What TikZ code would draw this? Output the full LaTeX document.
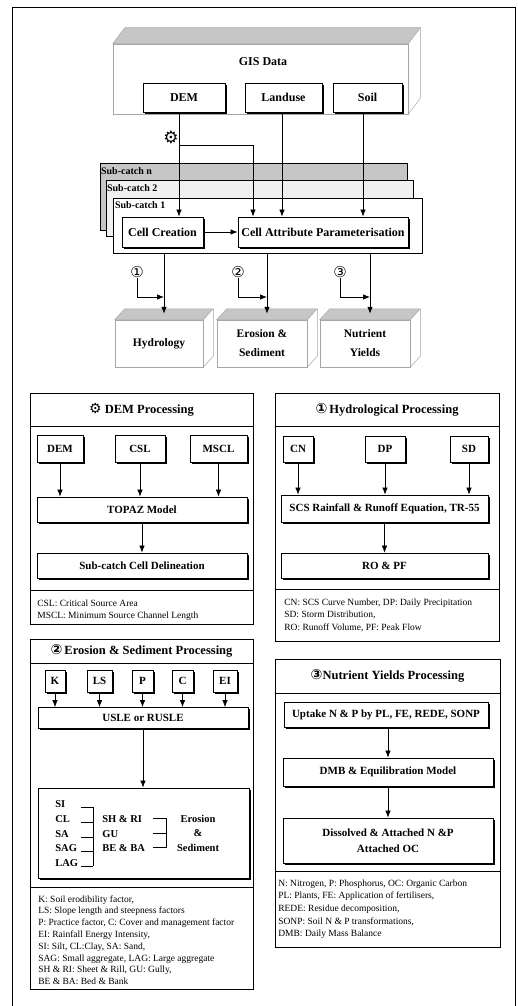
\documentclass[tikz,border=0pt]{standalone}
\usepackage{fontspec}
\setmainfont{Liberation Serif}
\newfontfamily\symfont{DejaVu Sans}
\usetikzlibrary{arrows.meta,shadows}
\tikzset{
  >={Latex[length=7pt,width=5.5pt]},
  box/.style={draw,fill=white,line width=0.8pt,inner sep=1pt,font=\bfseries\fontsize{11}{13}\selectfont,
    drop shadow={shadow xshift=1.6pt,shadow yshift=-1.6pt,fill=black,opacity=1}},
  topbox/.style={box,font=\bfseries\fontsize{12}{14}\selectfont},
  panel/.style={draw,line width=0.7pt},
  ptitle/.style={inner sep=0pt,font=\bfseries\fontsize{12.5}{14}\selectfont},
  note/.style={anchor=base west,inner sep=0pt,font=\fontsize{9.5}{11}\selectfont},
  slab/.style={draw=gray!70,line width=0.5pt},
  slabtop/.style={slab,fill=gray!45},
  sublbl/.style={anchor=north west,inner sep=0pt,font=\bfseries\fontsize{10}{12}\selectfont},
  outlbl/.style={slab,align=center,font=\bfseries\fontsize{11.5}{19}\selectfont},
  erotxt/.style={anchor=base west,inner sep=0pt,font=\bfseries\fontsize{10.5}{12}\selectfont},
  num/.style={inner sep=0pt,font=\symfont\fontsize{15}{15}\selectfont},
  every picture/.style={line width=0.7pt},
}
\newcommand\gearsym{{\symfont\fontsize{14}{14}\selectfont ⚙}}
% top face and right face of a slab; #2,#3 = depth offset right/up
\newcommand\slabfaces[3]{%
  \filldraw[slabtop] (#1.north west) -- ++(#2,-#3) -- ([xshift=#2pt,yshift=#3pt]#1.north east) -- (#1.north east) -- cycle;
  \draw[slab] ([xshift=#2pt,yshift=#3pt]#1.north east) -- ([xshift=#2pt,yshift=#3pt]#1.south east) -- (#1.south east);}

\begin{document}
\begin{tikzpicture}[x=1pt,y=-1pt]
\useasboundingbox (0,0) rectangle (517,1006);
\draw (12,1006) -- (12,7) -- (515,7) -- (515,1006);

% GIS data slab
\node[slab,minimum width=295,minimum height=70] (gis) at (260.5,79) {};
\slabfaces{gis}{12}{16}
\node[inner sep=0pt,font=\bfseries\fontsize{12}{14}\selectfont] (gisLbl) at (263,62) {GIS Data};
\node[topbox,minimum width=82,minimum height=29] (demT) at (184,97.5) {DEM};
\node[topbox,minimum width=77,minimum height=29] (landT) at (283.5,97.5) {Landuse};
\node[topbox,minimum width=69,minimum height=29] (soilT) at (367.5,97.5) {Soil};

% sub-catchment stack
\node[draw,line width=0.5pt,fill=gray!45,minimum width=307,minimum height=67] (scN) at (253.5,196.5) {};
\node[draw,line width=0.5pt,fill=gray!12,minimum width=307,minimum height=56] (sc2) at (259.5,208) {};
\node[draw,fill=white,minimum width=309,minimum height=55] (sc1) at (267.5,225.5) {};
\node[sublbl] (scNLbl) at ([xshift=1pt,yshift=-4pt]scN.north west) {Sub-catch n};
\node[sublbl] (sc2Lbl) at ([xshift=1pt,yshift=-4pt]sc2.north west) {Sub-catch 2};
\node[sublbl] (sc1Lbl) at ([xshift=2pt,yshift=-4pt]sc1.north west) {Sub-catch 1};
\node[topbox,minimum width=81,minimum height=30] (cellC) at (162.5,232) {Cell Creation};
\node[topbox,minimum width=170,minimum height=30] (cellA) at (323,232) {Cell Attribute Parameterisation};

\coordinate (dj) at (179,145);
\draw[->] ([xshift=-5pt]demT.south) -- ([xshift=-5pt]demT.south |- cellC.north);
\draw[->] (dj) -| ([xshift=-70pt]cellA.north);
\draw[->] ([xshift=-1.5pt]landT.south) -- ([xshift=-1.5pt]landT.south |- cellA.north);
\draw[->] ([xshift=-4.5pt]soilT.south) -- ([xshift=-4.5pt]soilT.south |- cellA.north);
\draw[->] (cellC) -- (cellA);
\node[num,font=\symfont\fontsize{17}{17}\selectfont] (gear) at (171,137) {⚙};

% output slabs
\node[outlbl,minimum width=88,minimum height=47] (hyd) at (159,343.5) {Hydrology};
\node[outlbl,minimum width=90,minimum height=47] (ero) at (262,343.5) {Erosion \&\\Sediment};
\node[outlbl,minimum width=90,minimum height=47] (nut) at (365,343.5) {Nutrient\\Yields};
\slabfaces{hyd}{10}{11}
\slabfaces{ero}{10}{11}
\slabfaces{nut}{10}{11}
\coordinate (hydIn) at ([xshift=5pt,yshift=6pt]hyd.north);
\coordinate (eroIn) at ([xshift=5pt,yshift=6pt]ero.north);
\coordinate (nutIn) at ([xshift=5pt,yshift=6pt]nut.north);
\coordinate (kneeY) at (0,297);
\draw[->] (sc1.south -| hydIn) -- (hydIn);
\draw[->] (sc1.south -| eroIn) -- (eroIn);
\draw[->] (sc1.south -| nutIn) -- (nutIn);
\node[num] (n1) at (137,272) {①};
\node[num] (n2) at (238,272) {②};
\node[num] (n3) at (340,272) {③};
\draw[->] (n1.south) |- (hydIn |- kneeY);
\draw[->] (n2.south) |- (eroIn |- kneeY);
\draw[->] (n3.south) |- (nutIn |- kneeY);

% DEM processing
\draw[panel] (30,393) rectangle (253,624);
\draw[panel] (30,426) -- (253,426);
\draw[panel] (30,590) -- (253,590);
\node[ptitle] (demTitle) at (141.5,409.5) {\gearsym\ DEM Processing};
\node[box,minimum width=46,minimum height=27] (demB) at (60,448.5) {DEM};
\node[box,minimum width=50,minimum height=27] (cslB) at (140,448.5) {CSL};
\node[box,minimum width=57,minimum height=27] (msclB) at (218.5,448.5) {MSCL};
\node[box,minimum width=210,minimum height=25] (topaz) at (142,509.5) {TOPAZ Model};
\node[box,minimum width=210,minimum height=25] (subDel) at (142,565.5) {Sub-catch Cell Delineation};
\foreach \n in {demB,cslB,msclB} \draw[->] (\n) -- (\n |- topaz.north);
\draw[->] (topaz) -- (subDel);
\node[note] (demN1) at (37,606) {CSL: Critical Source Area};
\node[note] (demN2) at (37,618) {MSCL: Minimum Source Channel Length};

% hydrological processing
\draw[panel] (275,393) rectangle (499,641);
\draw[panel] (275,426) -- (499,426);
\draw[panel] (275,589) -- (499,589);
\node[ptitle] (hydTitle) at (387,409.5) {{\symfont\fontsize{14}{14}\selectfont ①}\,Hydrological Processing};
\node[box,minimum width=30,minimum height=26] (cnB) at (298,449) {CN};
\node[box,minimum width=40,minimum height=26] (dpB) at (385,449) {DP};
\node[box,minimum width=38,minimum height=26] (sdB) at (469,449) {SD};
\node[box,minimum width=207,minimum height=27] (scs) at (384.5,508.5) {SCS Rainfall \& Runoff Equation, TR-55};
\node[box,minimum width=207,minimum height=25] (ropf) at (384.5,565.5) {RO \& PF};
\foreach \n in {cnB,dpB,sdB} \draw[->] (\n) -- (\n |- scs.north);
\draw[->] (scs) -- (ropf);
\node[note] (hydN1) at (284,605) {CN: SCS Curve Number, DP: Daily Precipitation};
\node[note] (hydN2) at (284,617.5) {SD: Storm Distribution,};
\node[note] (hydN3) at (284,630) {RO: Runoff Volume, PF: Peak Flow};

% erosion and sediment processing
\draw[panel] (30,639) rectangle (253,989);
\draw[panel] (30,663) -- (253,663);
\draw[panel] (30,887) -- (253,887);
\node[ptitle] (eroTitle) at (141.5,651) {{\symfont\fontsize{14}{14}\selectfont ②}\,Erosion \& Sediment Processing};
\node[box,minimum width=20,minimum height=22] (kB) at (55,681) {K};
\node[box,minimum width=25,minimum height=22] (lsB) at (99.5,681) {LS};
\node[box,minimum width=21,minimum height=22] (pB) at (142.5,681) {P};
\node[box,minimum width=21,minimum height=22] (cB) at (182.5,681) {C};
\node[box,minimum width=24,minimum height=22] (eiB) at (225,681) {EI};
\node[box,minimum width=210,minimum height=21] (usle) at (143,718) {USLE or RUSLE};
\foreach \n in {kB,lsB,pB,cB,eiB} \draw[->] (\n) -- (\n |- usle.north);
\node[box,minimum width=211,minimum height=90] (partBox) at (143.5,833) {};
\draw[->] (usle) -- (usle.south |- partBox.north);
\node[erotxt] (si) at (55,807) {SI};
\node[erotxt] (cl) at (55,822) {CL};
\node[erotxt] (sa) at (55,837) {SA};
\node[erotxt] (sag) at (55,851) {SAG};
\node[erotxt] (lag) at (55,866) {LAG};
\node[erotxt] (shri) at (102,822) {SH \& RI};
\node[erotxt] (gu) at (102,837) {GU};
\node[erotxt] (beba) at (102,851) {BE \& BA};
\node[erotxt,anchor=center,align=center,font=\bfseries\fontsize{10.5}{14.5}\selectfont] (eroSed) at (198,833) {Erosion\\\&\\Sediment};
\coordinate (tickA) at (81,0); \coordinate (barA) at (93,0);
\coordinate (tickB) at (153,0); \coordinate (barB) at (166,0);
\draw[line width=0.6pt] (si.base -| tickA) -| (lag.base -| barA);
\foreach \n in {cl,sa,sag,lag} \draw[line width=0.6pt] (\n.base -| tickA) -- (\n.base -| barA);
\draw[line width=0.6pt] ([yshift=3.5pt]shri.base -| tickB) -| ([yshift=3.5pt]beba.base -| barB) -- ([yshift=3.5pt]beba.base -| tickB);
\draw[line width=0.6pt] ([yshift=3.5pt]gu.base -| tickB) -- ([yshift=3.5pt]gu.base -| barB);
\foreach \t [count=\i from 0] in {{K: Soil erodibility factor,},{LS: Slope length and steepness factors},
  {P: Practice factor, C: Cover and management factor},{EI: Rainfall Energy Intensity,},
  {SI: Silt, CL:Clay, SA: Sand,},{SAG: Small aggregate, LAG: Large aggregate},
  {SH \& RI: Sheet \& Rill, GU: Gully,},{BE \& BA: Bed \& Bank}}
  \node[note] (eroN\i) at (38,{902+11.8*\i}) {\t};

% nutrient yields processing
\draw[panel] (275,659) rectangle (500,947);
\draw[panel] (275,693) -- (500,693);
\draw[panel] (275,871) -- (500,871);
\node[ptitle] (nutTitle) at (387.5,676) {{\symfont\fontsize{14}{14}\selectfont ③}Nutrient Yields Processing};
\node[box,minimum width=204,minimum height=25] (uptake) at (386,714.5) {Uptake N \& P by PL, FE, REDE, SONP};
\node[box,minimum width=210,minimum height=28] (dmb) at (388,772) {DMB \& Equilibration Model};
\node[box,minimum width=210,minimum height=45,align=center,font=\bfseries\fontsize{11}{16}\selectfont] (diss) at (388,840.5) {Dissolved \& Attached N \&P\\Attached OC};
\draw[->] (dmb.north |- uptake.south) -- (dmb.north);
\draw[->] (dmb) -- (diss);
\foreach \t [count=\i from 0] in {{N: Nitrogen, P: Phosphorus, OC: Organic Carbon},{PL: Plants, FE: Application of fertilisers,},
  {REDE: Residue decomposition,},{SONP: Soil N \& P transformations,},{DMB: Daily Mass Balance}}
  \node[note] (nutN\i) at (278,{886+12.7*\i}) {\t};
\end{tikzpicture}
\end{document}
